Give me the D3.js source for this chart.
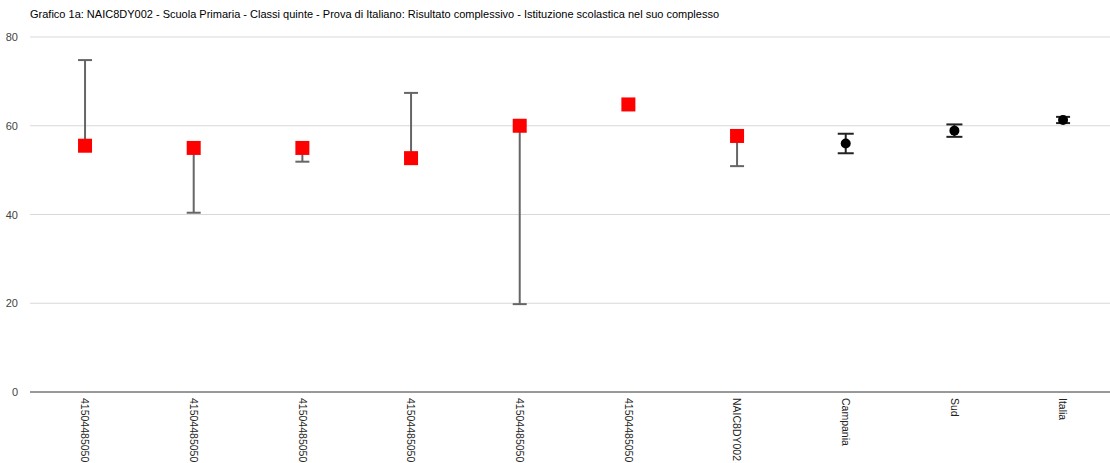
<!DOCTYPE html>
<html><head><meta charset="utf-8">
<script src="https://cdn.jsdelivr.net/npm/d3@7"></script>
<style>body{margin:0;background:#fff;}svg{display:block;font-family:Arial,"Liberation Sans",sans-serif;}</style>
</head><body>
<svg id="c" width="1110" height="463"></svg>
<script>
const title = "Grafico 1a: NAIC8DY002 - Scuola Primaria - Classi quinte - Prova di Italiano: Risultato complessivo - Istituzione scolastica nel suo complesso";
const categories = ["c1","c2","c3","c4","c5","c6","NAIC8DY002","Campania","Sud","Italia"];
const labels = ["41504485050","41504485050","41504485050","41504485050","41504485050","41504485050","NAIC8DY002","Campania","Sud","Italia"];
const values = [55.5, 55.0, 55.0, 52.7, 60.0, 64.8, 57.7, 56.0, 58.9, 61.3];
const lower  = [55.5, 40.4, 51.9, 52.7, 19.8, null, 50.9, 53.8, 57.5, 60.6];
const upper  = [74.8, 55.0, 55.0, 67.4, 60.0, null, 57.7, 58.2, 60.3, 62.0];
const markerType = ["square","square","square","square","square","square","square","circle","circle","circle"];
const yTicks = [0, 20, 40, 60, 80];

const svg = d3.select("#c");
const x = d3.scaleBand().domain(categories).range([30.7, 1117.4]);
const y = d3.scaleLinear().domain([0, 80]).range([392, 37]);

svg.append("text").attr("x", 30).attr("y", 18).attr("font-size", 11).attr("fill", "#000").text(title);

// grid
svg.append("g").selectAll("line").data(yTicks.filter(d => d > 0)).join("line")
  .attr("x1", 30).attr("x2", 1117).attr("y1", d => y(d)).attr("y2", d => y(d))
  .attr("stroke", "#d9d9d9").attr("stroke-width", 1);

// y axis labels
const ya = svg.append("g").attr("transform", "translate(30,0)")
  .call(d3.axisLeft(y).tickValues(yTicks).tickSize(0).tickPadding(12));
ya.select(".domain").remove();
ya.selectAll("text").attr("font-size", 11).attr("fill", "#444").attr("font-family", "Arial, 'Liberation Sans', sans-serif");

// baseline
svg.append("line").attr("x1", 30).attr("x2", 1117).attr("y1", y(0)).attr("y2", y(0))
  .attr("stroke", "#333").attr("stroke-width", 1);

// x labels
const xa = svg.append("g").attr("transform", `translate(0,${y(0)})`)
  .call(d3.axisBottom(x).tickSize(0).tickFormat((d, i) => labels[i]));
xa.select(".domain").remove();
xa.selectAll("text")
  .attr("font-size", 10.5).attr("fill", "#222").attr("font-family", "Arial, 'Liberation Sans', sans-serif")
  .attr("text-anchor", "start").attr("dy", "0.35em")
  .attr("transform", "translate(0,6) rotate(90)").attr("x", 0).attr("y", 0);

// error bars
const eb = svg.append("g");
categories.forEach((c, i) => {
  if (lower[i] === null) return;
  const cx = x(c) + x.bandwidth() / 2;
  const cw = markerType[i] === "circle" ? (i === 9 ? 7 : 8) : 7;
  const col = markerType[i] === "circle" ? "#222" : "#666";
  eb.append("line").attr("x1", cx).attr("x2", cx).attr("y1", y(lower[i])).attr("y2", y(upper[i]))
    .attr("stroke", col).attr("stroke-width", 2);
  if (upper[i] !== values[i]) eb.append("line").attr("x1", cx - cw).attr("x2", cx + cw)
    .attr("y1", y(upper[i])).attr("y2", y(upper[i])).attr("stroke", col).attr("stroke-width", 2);
  if (lower[i] !== values[i]) eb.append("line").attr("x1", cx - cw).attr("x2", cx + cw)
    .attr("y1", y(lower[i])).attr("y2", y(lower[i])).attr("stroke", col).attr("stroke-width", 2);
});

// markers
const mk = svg.append("g");
categories.forEach((c, i) => {
  const cx = x(c) + x.bandwidth() / 2, cy = y(values[i]);
  if (markerType[i] === "square") {
    mk.append("rect").attr("x", cx - 7).attr("y", cy - 7).attr("width", 14).attr("height", 14).attr("fill", "#ff0000");
  } else {
    mk.append("circle").attr("cx", cx).attr("cy", cy).attr("r", 5).attr("fill", "#000");
  }
});
</script>
</body></html>
